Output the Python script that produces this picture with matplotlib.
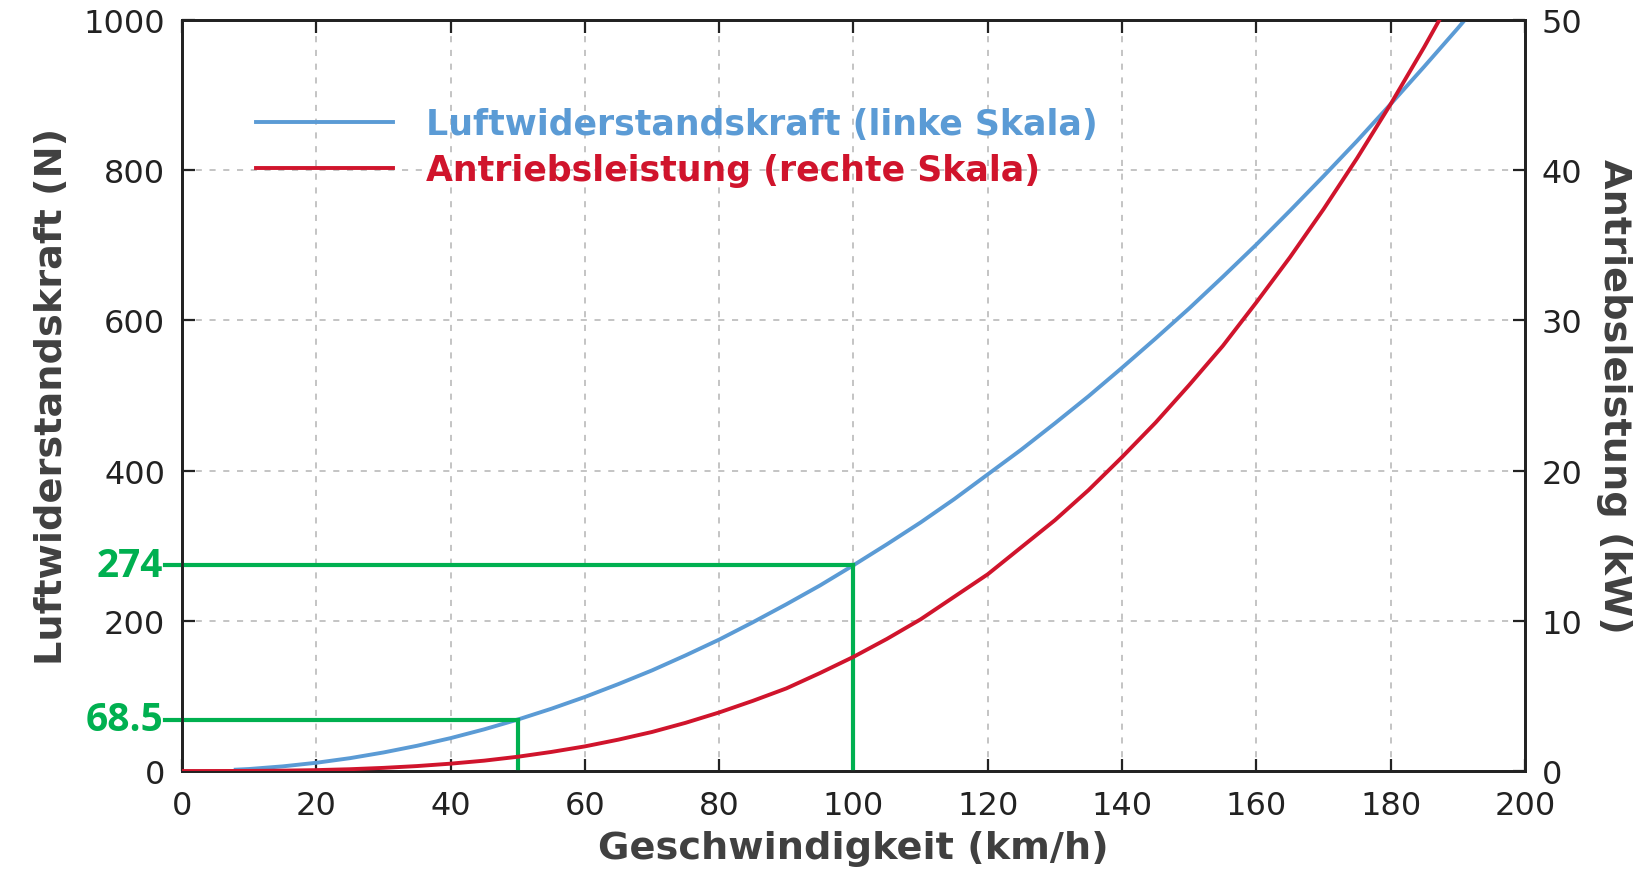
import matplotlib.pyplot as plt
from matplotlib.transforms import blended_transform_factory

# speed (km/h) and curve values
speed = [0, 8, 10, 15, 20, 25, 30, 35, 40, 45, 50, 55, 60, 65, 70, 75, 80, 85, 90, 95, 100,
         105, 110, 115, 120, 125, 130, 135, 140, 145, 150, 155, 160, 165, 170, 175, 180, 185, 190, 195]
force_n = [None, 1.8, 2.7, 6.2, 11, 17.1, 24.7, 33.6, 43.8, 55.5, 68.5, 82.9, 98.6, 115.8, 134, 154, 175, 198, 222, 247, 274,
           302, 331, 362, 395, 428, 463, 499, 537, 576, 616, 658, 701, 746, 792, 839, 888, 938, 989, 1042]
power_kw = [0, 0.004, 0.008, 0.026, 0.06, 0.12, 0.21, 0.33, 0.49, 0.69, 0.95, 1.27, 1.64, 2.09, 2.6, 3.21, 3.9, 4.67, 5.5, 6.52, 7.6,
            8.8, 10.1, 11.6, 13.1, 14.9, 16.7, 18.7, 20.9, 23.2, 25.7, 28.3, 31.2, 34.2, 37.4, 40.8, 44.4, 48.2, 52.2, 56.4]

# marked values (green helper lines)
mark_speed = [50, 100]
mark_force = [68.5, 274]
mark_text = ['68.5', '274']

blue = '#5b9bd5'
red = '#d0142c'
green = '#00b050'
txt = '#404040'

plt.rcParams['font.family'] = ['DejaVu Sans']

fig = plt.figure(figsize=(16.47, 8.78), dpi=100)
ax = fig.add_axes([0.1105, 0.1207, 0.8154, 0.8554])
ax2 = ax.twinx()

bx = [s for s, f in zip(speed, force_n) if f is not None]
by = [f for f in force_n if f is not None]
l1, = ax.plot(bx, by, color=blue, lw=2.8, label='Luftwiderstandskraft (linke Skala)', zorder=3)
l2, = ax2.plot(speed, power_kw, color=red, lw=2.8, label='Antriebsleistung (rechte Skala)', zorder=3)

ax.set_xlim(0, 200)
ax.set_ylim(0, 1000)
ax2.set_ylim(0, 50)
ax.set_xticks(range(0, 201, 20))
ax.set_yticks(range(0, 1001, 200))
ax2.set_yticks(range(0, 51, 10))

ax.grid(True, color='#b4b4b4', linestyle=(0, (4, 5)), linewidth=1.1)

for a in (ax, ax2):
    for sp in a.spines.values():
        sp.set_linewidth(2)
        sp.set_color('#222222')
    a.tick_params(direction='in', length=9, width=1.6, labelsize=23, colors='#222222', pad=12)
ax.tick_params(axis='x', top=True, pad=14)

ax.set_xlabel('Geschwindigkeit (km/h)', fontsize=27.5, fontweight='bold', color=txt, labelpad=6)
ax.set_ylabel('Luftwiderstandskraft (N)', fontsize=27.5, fontweight='bold', color=txt, labelpad=10)
ax2.set_ylabel('Antriebsleistung (kW)', fontsize=27.5, fontweight='bold', color=txt, rotation=-90, labelpad=36)

# green helper lines with labels
trans = blended_transform_factory(ax.transAxes, ax.transData)
for sx, fy, t in zip(mark_speed, mark_force, mark_text):
    ax.plot([-2.5, sx], [fy, fy], color=green, lw=3, clip_on=False, zorder=4)
    ax.plot([sx, sx], [fy, 0], color=green, lw=3, zorder=4)
    ax.text(-0.014, fy, t, transform=trans, ha='right', va='center', fontsize=28,
            fontweight='bold', color=green, family=['Open Sans', 'DejaVu Sans'])

leg = ax.legend(handles=[l1, l2], loc='upper left', bbox_to_anchor=(0.032, 0.926),
                frameon=False, handlelength=3.95, handletextpad=0.95, labelspacing=0.36,
                prop={'size': 25, 'weight': 'bold'})
for text, c in zip(leg.get_texts(), [blue, red]):
    text.set_color(c)

fig.savefig('out.png', dpi=100, facecolor='white')
